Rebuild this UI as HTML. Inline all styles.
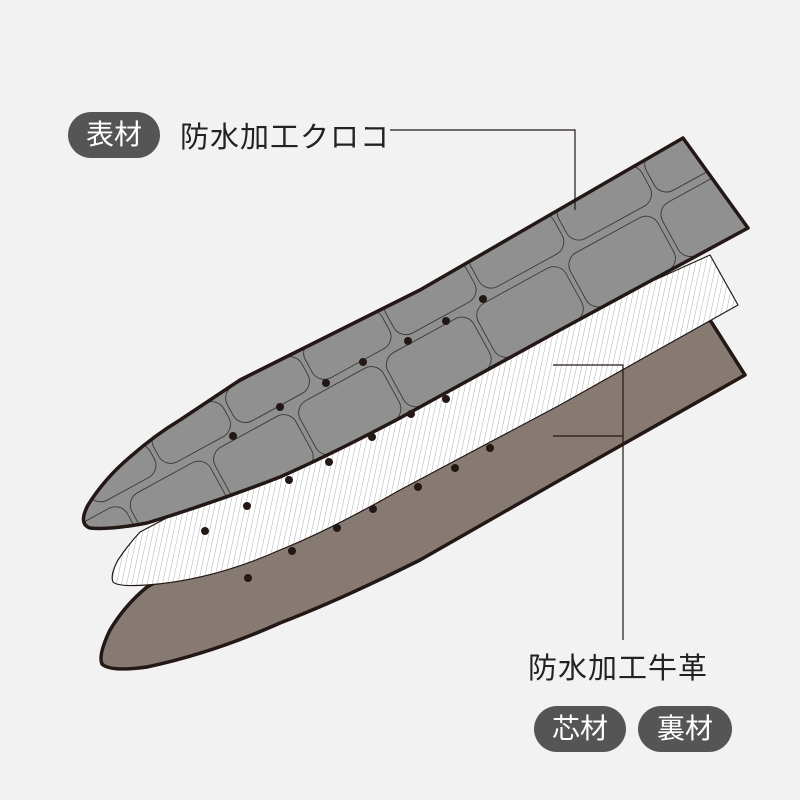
<!DOCTYPE html>
<html><head><meta charset="utf-8"><style>
html,body{margin:0;padding:0;background:#f2f2f2;}
body{width:800px;height:800px;position:relative;overflow:hidden;font-family:"Liberation Sans","Noto Sans CJK JP",sans-serif;}
.pill{position:absolute;background:#555;color:#fff;border-radius:23px;height:46px;line-height:46px;text-align:center;font-size:28px;}
.t{position:absolute;color:#222;font-size:29px;white-space:nowrap;letter-spacing:1px;}
svg{position:absolute;left:0;top:0;}
</style></head><body>
<svg width="800" height="800" viewBox="0 0 800 800">
<defs>
<pattern id="h" width="5" height="5" patternUnits="userSpaceOnUse" patternTransform="rotate(12)">
<rect width="5" height="5" fill="#fff"/><line x1="0" y1="0" x2="0" y2="5" stroke="#999" stroke-width="0.8"/>
</pattern>
<clipPath id="gc"><path d="M683,138 L748,228 L560,330 L400,418 Q330,455 280,477 Q213,503 147,523 Q110,530 90,528 Q78,524 88,505 Q105,478 130,457 Q155,435 180,420 L240,380 L420,290 Z"/></clipPath>
</defs>
<path d="M710,320 L745,375 L560,480 L420,560 Q340,600 280,623 Q213,653 147,667 Q110,672 102,664 Q98,655 110,630 Q125,605 147,587 L400,450 Z" fill="#877a72" stroke="#231815" stroke-width="3.5" stroke-linejoin="round"/>
<path d="M710,255 L738,305 L560,405 L400,490 Q330,530 280,550 Q213,580 147,585 Q118,587 113,582 Q110,575 118,560 Q128,545 140,532 L400,395 Z" fill="url(#h)" stroke="#231815" stroke-width="1.2" stroke-linejoin="round"/>
<path d="M683,138 L748,228 L560,330 L400,418 Q330,455 280,477 Q213,503 147,523 Q110,530 90,528 Q78,524 88,505 Q105,478 130,457 Q155,435 180,420 L240,380 L420,290 Z" fill="#909090"/>
<g clip-path="url(#gc)" fill="none" stroke="#3a3a3a" stroke-width="0.9">
<g transform="translate(483,299) rotate(-28.7)">
<rect x="-440" y="-40" width="75" height="36" rx="14"/>
<rect x="-360" y="-42" width="80" height="38" rx="14"/>
<rect x="-275" y="-44" width="85" height="40" rx="14"/>
<rect x="-185" y="-46" width="88" height="42" rx="14"/>
<rect x="-92" y="-48" width="92" height="44" rx="14"/>
<rect x="5" y="-48" width="95" height="44" rx="14"/>
<rect x="105" y="-48" width="95" height="44" rx="14"/>
<rect x="205" y="-48" width="90" height="44" rx="14"/>
<rect x="-470" y="4" width="55" height="60" rx="14"/>
<rect x="-410" y="4" width="90" height="60" rx="14"/>
<rect x="-315" y="4" width="92" height="60" rx="14"/>
<rect x="-218" y="4" width="95" height="60" rx="14"/>
<rect x="-118" y="4" width="98" height="60" rx="14"/>
<rect x="-15" y="4" width="100" height="60" rx="14"/>
<rect x="90" y="4" width="100" height="60" rx="14"/>
<rect x="195" y="4" width="100" height="60" rx="14"/>
</g>
</g>
<path d="M683,138 L748,228 L560,330 L400,418 Q330,455 280,477 Q213,503 147,523 Q110,530 90,528 Q78,524 88,505 Q105,478 130,457 Q155,435 180,420 L240,380 L420,290 Z" fill="none" stroke="#231815" stroke-width="3.5" stroke-linejoin="round"/>
<g fill="#231815">
<circle cx="233" cy="436" r="4"/><circle cx="280" cy="407" r="4"/><circle cx="326" cy="383" r="4"/><circle cx="363" cy="362" r="4"/><circle cx="408" cy="341" r="4"/><circle cx="446" cy="321" r="4"/><circle cx="483" cy="299" r="4"/>
<circle cx="205" cy="531" r="4"/><circle cx="247" cy="506" r="4"/><circle cx="289" cy="480" r="4"/><circle cx="329" cy="462" r="4"/><circle cx="372" cy="437" r="4"/><circle cx="411" cy="414" r="4"/><circle cx="446" cy="399" r="4"/>
<circle cx="248" cy="578" r="4"/><circle cx="292" cy="551" r="4"/><circle cx="337" cy="528" r="4"/><circle cx="373" cy="509" r="4"/><circle cx="418" cy="487" r="4"/><circle cx="455" cy="468" r="4"/><circle cx="490" cy="448" r="4"/>
</g>
<g fill="none" stroke="#231815" stroke-width="1.2">
<polyline points="390,130 575,130 575,210"/>
<polyline points="553,365 623,365 623,640"/>
<line x1="553" y1="436" x2="623" y2="436"/>
</g>
</svg>
<div class="pill" style="left:68px;top:112px;width:92px;">表材</div>
<div class="t" style="left:180px;top:114px;">防水加工クロコ</div>
<div class="t" style="left:528px;top:645px;">防水加工牛革</div>
<div class="pill" style="left:534px;top:706px;width:92px;">芯材</div>
<div class="pill" style="left:638px;top:706px;width:94px;">裏材</div>
</body></html>
